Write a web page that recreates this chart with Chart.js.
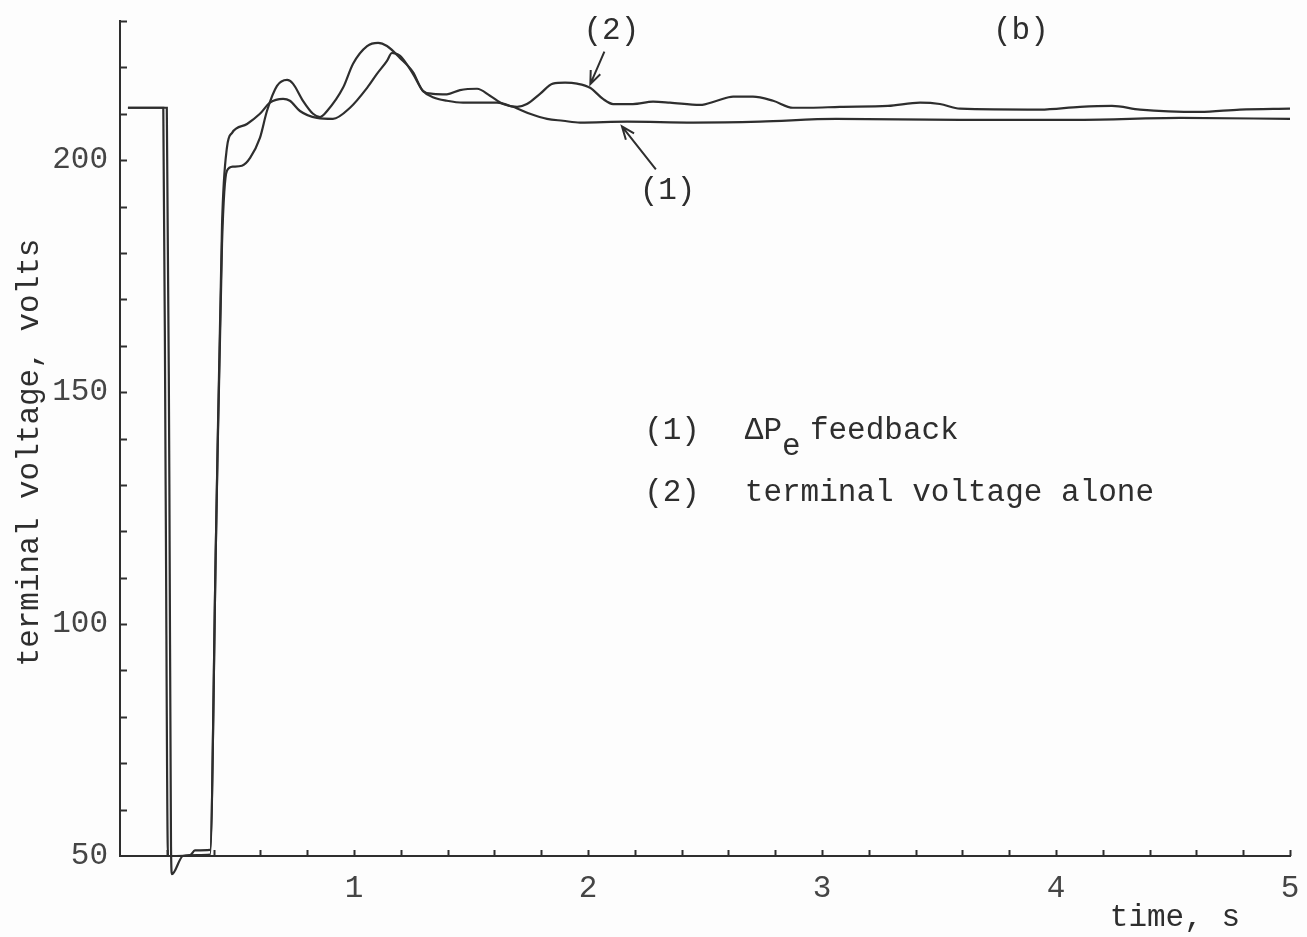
<!DOCTYPE html>
<html>
<head>
<meta charset="utf-8">
<script src="https://cdn.jsdelivr.net/npm/chart.js@4.4.1/dist/chart.umd.min.js"></script>
<style>
  html, body { margin: 0; padding: 0; background: #fdfdfd; }
</style>
</head>
<body>
<canvas id="c" width="1307" height="937"></canvas>
<script>
// curve (1): delta Pe feedback  -- time (s) / terminal voltage (V)
const t1 = [0.034, 0.185, 0.195, 0.205, 0.24, 0.30, 0.32, 0.385, 0.41, 0.436, 0.457, 0.479, 0.543, 0.598, 0.641,
  0.697, 0.726, 0.769, 0.842, 0.910, 0.983, 1.056, 1.098, 1.141, 1.162, 1.197, 1.252, 1.295, 1.340, 1.397, 1.466,
  1.611, 1.679, 1.752, 1.825, 1.893, 1.966, 2.167, 2.449, 2.735, 3.060, 3.590, 4.100, 4.530, 5.000];
const v1 = [211.3, 211.3, 130, 50, 50, 50.2, 51.2, 51.3, 118, 186, 202.7, 205.9, 207.8, 210.0, 212.4,
  213.2, 212.8, 210.6, 209.1, 208.9, 211.3, 215.6, 218.6, 221.4, 223.1, 222.5, 218.6, 214.9, 213.5, 212.8, 212.4,
  212.4, 211.5, 210.0, 208.9, 208.5, 208.1, 208.3, 208.1, 208.3, 208.9, 208.7, 208.7, 209.1, 208.9];

// curve (2): terminal voltage alone
const t2 = [0.034, 0.200, 0.211, 0.218, 0.222, 0.269, 0.330, 0.385, 0.41, 0.436, 0.457, 0.483, 0.521, 0.556,
  0.598, 0.628, 0.671, 0.714, 0.739, 0.782, 0.825, 0.855, 0.885, 0.953, 0.996, 1.056, 1.103, 1.141, 1.197, 1.252,
  1.295, 1.338, 1.397, 1.453, 1.526, 1.581, 1.637, 1.697, 1.739, 1.795, 1.850, 1.902, 1.953, 2.009, 2.064, 2.107,
  2.192, 2.278, 2.350, 2.479, 2.551, 2.620, 2.705, 2.791, 2.876, 2.949, 3.077, 3.282, 3.419, 3.504, 3.590, 3.932,
  4.103, 4.239, 4.359, 4.615, 4.786, 5.000];
const v2 = [211.3, 211.3, 130, 52, 46.1, 50, 50.2, 50.3, 118, 182, 197.7, 198.6, 198.8, 200.5,
  204.8, 210.6, 216.0, 217.3, 216.5, 212.8, 210.0, 209.3, 210.6, 215.6, 220.8, 224.6, 225.3, 224.6, 222.0, 219.0,
  214.9, 214.3, 214.2, 215.1, 215.4, 213.9, 212.1, 211.5, 212.1, 214.3, 216.5, 216.7, 216.5, 215.6, 213.2, 212.1,
  212.1, 212.6, 212.4, 211.9, 212.8, 213.7, 213.7, 212.8, 211.3, 211.3, 211.5, 211.7, 212.4, 212.1, 211.1, 210.9,
  211.5, 211.7, 210.9, 210.4, 210.9, 211.1];

const xLabels = [1, 2, 3, 4, 5];
const yLabels = [50, 100, 150, 200];

const INK = "#2e2e2e";
const LABEL = "#454545";
const MONO = "'Liberation Mono', 'DejaVu Sans Mono', monospace";
const FS = 31;

function drawArrow(ctx, x0, y0, x1, y1) {
  const a = Math.atan2(y1 - y0, x1 - x0);
  const h = 14;
  ctx.beginPath();
  ctx.moveTo(x0, y0);
  ctx.lineTo(x1, y1);
  ctx.moveTo(x1 - h * Math.cos(a - 0.38), y1 - h * Math.sin(a - 0.38));
  ctx.lineTo(x1, y1);
  ctx.lineTo(x1 - h * Math.cos(a + 0.38), y1 - h * Math.sin(a + 0.38));
  ctx.stroke();
}

// minor ticks (inward), axis titles, curve labels and key
const overlay = {
  id: "overlay",
  afterDraw(chart) {
    const { ctx, chartArea: ca } = chart;
    const x = chart.scales.x;
    const y = chart.scales.y;
    const P = (t, v) => [x.getPixelForValue(t), y.getPixelForValue(v)];
    ctx.save();

    ctx.strokeStyle = INK;
    ctx.lineWidth = 2;
    for (let v = 60; v <= 230; v += 10) {
      const py = Math.round(y.getPixelForValue(v)) + 0.5;
      ctx.beginPath();
      ctx.moveTo(ca.left, py);
      ctx.lineTo(ca.left + 7, py);
      ctx.stroke();
    }
    for (let i = 1; i <= 25; i++) {
      const px = Math.round(x.getPixelForValue(i * 0.2)) + 0.5;
      ctx.beginPath();
      ctx.moveTo(px, ca.bottom);
      ctx.lineTo(px, ca.bottom - 6);
      ctx.stroke();
    }

    ctx.fillStyle = INK;
    ctx.font = `${FS}px ${MONO}`;
    ctx.textBaseline = "middle";

    // axis titles
    ctx.save();
    ctx.translate(30, (ca.top + ca.bottom) / 2 + 14);
    ctx.rotate(-Math.PI / 2);
    ctx.textAlign = "center";
    ctx.fillText("terminal voltage, volts", 0, 0);
    ctx.restore();
    ctx.textAlign = "right";
    ctx.fillText("time, s", 1240, 918);

    // labels on curves
    ctx.textAlign = "center";
    let [px, py] = P(2.10, 227.9);
    ctx.fillText("(2)", px, py);
    [px, py] = P(2.34, 193.4);
    ctx.fillText("(1)", px, py);
    [px, py] = P(3.85, 227.9);
    ctx.fillText("(b)", px, py);

    ctx.lineWidth = 2;
    drawArrow(ctx, ...P(2.07, 223.4), ...P(2.01, 216.4));
    drawArrow(ctx, ...P(2.29, 198.0), ...P(2.145, 207.3));

    // key
    ctx.textAlign = "left";
    const cw = ctx.measureText("0").width;
    let [kx, ky] = P(2.24, 141.7);
    const tx = x.getPixelForValue(2.67);
    ctx.fillText("(1)", kx, ky);
    ctx.fillText("\u0394P", tx, ky);
    ctx.fillText("e", tx + 2 * cw, ky + 16);
    ctx.fillText("feedback", tx + 3.5 * cw, ky);
    [kx, ky] = P(2.24, 128.4);
    ctx.fillText("(2)", kx, ky);
    ctx.fillText("terminal voltage alone", tx, ky);

    ctx.restore();
  }
};

const toPts = (ts, vs) => ts.map((t, i) => ({ x: t, y: vs[i] }));

new Chart(document.getElementById("c"), {
  type: "line",
  data: {
    datasets: [
      {
        label: "(1) \u0394Pe feedback",
        data: toPts(t1, v1),
        borderColor: INK,
        borderWidth: 2.2,
        pointRadius: 0,
        clip: false,
        cubicInterpolationMode: "monotone",
      },
      {
        label: "(2) terminal voltage alone",
        data: toPts(t2, v2),
        borderColor: INK,
        borderWidth: 2.2,
        pointRadius: 0,
        clip: false,
        cubicInterpolationMode: "monotone",
      },
    ],
  },
  options: {
    responsive: false,
    animation: false,
    layout: { padding: { top: 21, right: 17, left: 0, bottom: 0 } },
    plugins: { legend: { display: false }, tooltip: { enabled: false } },
    scales: {
      x: {
        type: "linear",
        min: 0,
        max: 5,
        afterBuildTicks: (s) => { s.ticks = xLabels.map((v) => ({ value: v })); },
        afterFit: (s) => { s.height = 81; s.paddingLeft = 0; s.paddingRight = 0; },
        grid: { display: false, drawTicks: false },
        border: { display: true, color: INK, width: 2 },
        ticks: { font: { family: MONO, size: FS }, color: LABEL, padding: 14, maxRotation: 0, autoSkip: false,
          callback: (v) => String(v) },
      },
      y: {
        min: 50,
        max: 230,
        afterBuildTicks: (s) => { s.ticks = yLabels.map((v) => ({ value: v })); },
        afterFit: (s) => { s.width = 120; s.paddingTop = 0; s.paddingBottom = 0; },
        grid: { display: false, drawTicks: false },
        border: { display: true, color: INK, width: 2 },
        ticks: { font: { family: MONO, size: FS }, color: LABEL, padding: 12, autoSkip: false,
          callback: (v) => String(v) },
      },
    },
  },
  plugins: [overlay],
});
</script>
</body>
</html>
